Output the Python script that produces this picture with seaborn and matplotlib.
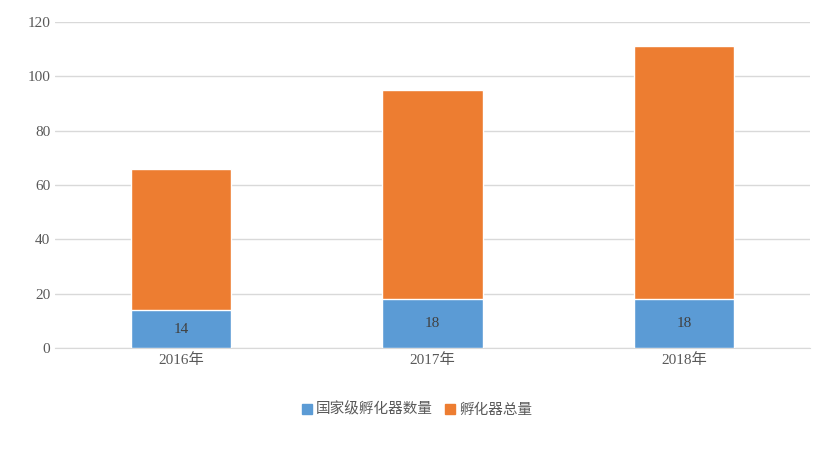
import matplotlib
matplotlib.use("Agg")
import matplotlib.pyplot as plt
import seaborn as sns
import pandas as pd

years = ["2016年", "2017年", "2018年"]
national = [14, 18, 18]
total = [66, 95, 111]

sns.set_style("white")
plt.rcParams['font.family'] = ['Liberation Serif', 'Noto Sans CJK SC']

fig = plt.figure(figsize=(8.34, 4.55), dpi=100)
ax = fig.add_axes([0.066, 0.235, 0.905, 0.717])

df = pd.DataFrame({"year": years, "national": national, "total": total})
sns.barplot(data=df, x="year", y="total", color="#ED7D31", width=0.4, saturation=1, ax=ax, zorder=3)
sns.barplot(data=df, x="year", y="national", color="#5B9BD5", width=0.4, saturation=1, ax=ax, zorder=4)

for i, v in enumerate(national):
    ax.text(i, v / 2, str(v), ha="center", va="center", fontsize=11, color="#404040", zorder=5)

ax.set_ylim(0, 120)
ax.set_yticks(range(0, 121, 20))
ax.grid(axis="y", color="#D9D9D9", linewidth=1, zorder=0)
for s in ["top", "right", "left"]:
    ax.spines[s].set_visible(False)
ax.spines["bottom"].set_color("#D9D9D9")
ax.set_xlabel("")
ax.set_ylabel("")
ax.tick_params(axis="both", length=0, labelsize=11, labelcolor="#595959")
for lab in ax.get_xticklabels():
    lab.set_family(['Liberation Serif', 'Noto Sans CJK SC'])

from matplotlib.patches import Patch
handles = [Patch(color="#5B9BD5", label="国家级孵化器数量"), Patch(color="#ED7D31", label="孵化器总量")]
fig.legend(handles=handles, loc="center", bbox_to_anchor=(0.5, 0.1), ncol=2, frameon=False,
           prop={"family": "Noto Sans CJK SC", "size": 10.5}, handlelength=0.7, handleheight=0.7,
           columnspacing=0.8, handletextpad=0.3, labelcolor="#595959")

fig.savefig("out.png", dpi=100)
